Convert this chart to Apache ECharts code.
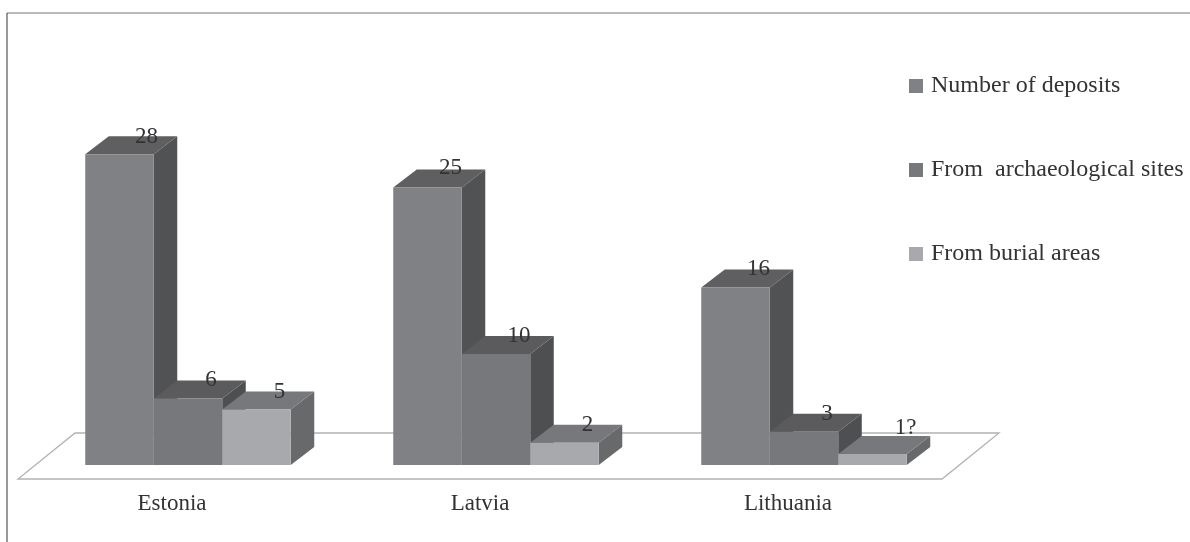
<!DOCTYPE html>
<html>
<head>
<meta charset="utf-8">
<style>html,body{margin:0;padding:0;background:#fff}#chart{width:1190px;height:542px}</style>
<script src="https://cdn.jsdelivr.net/npm/echarts@6/dist/echarts.min.js"></script>
</head>
<body>
<div id="chart"></div>
<script>
// Deposits per Baltic country
const countries = ['Estonia', 'Latvia', 'Lithuania'];
const seriesNames = ['Number of deposits', 'From  archaeological sites', 'From burial areas'];
const numberOfDeposits = [28, 25, 16];
const fromArchaeologicalSites = [6, 10, 3];
const fromBurialAreas = [5, 2, 1];
const depositLabels = ['28', '25', '16'];
const siteLabels = ['6', '10', '3'];
const burialLabels = ['5', '2', '1?'];

// Block shading: front, top and side face per series
const faces = [
  { front: '#808184', top: '#5f5f61', side: '#515254' },
  { front: '#77787b', top: '#5b5b5d', side: '#4e4f51' },
  { front: '#a7a9ac', top: '#77787b', side: '#68696b' }
];
const allLabels = [depositLabels, siteLabels, burialLabels];
const FONT = '"Liberation Serif", serif';
const TEXT = '#333335';

// Pseudo-3D geometry, in pixels
const FLOOR_DX = 57, FLOOR_DY = 46;   // floor depth
const BASE_DX = 16, BASE_DY = 14;     // bars stand in the middle of the floor
const DEPTH_DX = 23.5, DEPTH_DY = 18; // depth of each block
const BAR_SHARE = 0.2224;             // bar width as a share of the category band
const labelShift = { '28': [4, 1], '25': [0, -2], '1?': [10, -8] };

function renderFloor(params) {
  const g = params.coordSys;
  const bottom = g.y + g.height, right = g.x + g.width;
  return {
    type: 'polygon',
    shape: { points: [
      [g.x, bottom], [right, bottom],
      [right + FLOOR_DX, bottom - FLOOR_DY], [g.x + FLOOR_DX, bottom - FLOOR_DY]
    ] },
    style: { fill: '#fff', stroke: '#b2b2b2', lineWidth: 1.3 }
  };
}

function blockRenderer(seriesIndex) {
  return function (params, api) {
    const base = api.coord([api.value(0), 0]);
    const head = api.coord([api.value(0), api.value(1)]);
    const band = api.size([1, 0])[0];
    const w = band * BAR_SHARE;
    const x0 = base[0] + BASE_DX + (seriesIndex - 1.5) * w;
    const x1 = x0 + w;
    const yb = base[1] - BASE_DY;
    const yt = head[1] - BASE_DY;
    const c = faces[seriesIndex];
    const text = allLabels[seriesIndex][params.dataIndex];
    const shift = labelShift[text] || [0, 0];
    return {
      type: 'group',
      children: [
        { type: 'polygon', shape: { points: [[x1, yb], [x1 + DEPTH_DX, yb - DEPTH_DY], [x1 + DEPTH_DX, yt - DEPTH_DY], [x1, yt]] },
          style: { fill: c.side } },
        { type: 'polygon', shape: { points: [[x0, yt], [x1, yt], [x1 + DEPTH_DX, yt - DEPTH_DY], [x0 + DEPTH_DX, yt - DEPTH_DY]] },
          style: { fill: c.top } },
        { type: 'rect', shape: { x: x0, y: yt, width: w, height: yb - yt },
          style: { fill: c.front } },
        { type: 'text', z2: 100,
          style: {
            x: (x0 + x1) / 2 + 23 + shift[0],
            y: yt - 18 + shift[1],
            text: text,
            align: 'center', verticalAlign: 'middle',
            font: '23px ' + FONT, fill: TEXT
          } }
      ]
    };
  };
}

function blockSeries(index, values) {
  return {
    type: 'custom',
    name: seriesNames[index],
    renderItem: blockRenderer(index),
    itemStyle: { color: faces[index].front },
    encode: { x: 0, y: 1 },
    clip: false,
    data: values.map((v, i) => [i, v])
  };
}

const chart = echarts.init(document.getElementById('chart'), null, { renderer: 'canvas' });
chart.setOption({
  animation: false,
  backgroundColor: '#fff',
  grid: { left: 18, width: 924, top: 35, height: 444 },
  xAxis: {
    type: 'category',
    data: countries,
    axisLine: { show: false },
    axisTick: { show: false },
    axisLabel: { fontFamily: FONT, fontSize: 23, color: TEXT, margin: 13 }
  },
  yAxis: { type: 'value', min: 0, max: 40, show: false },
  legend: {
    orient: 'vertical',
    left: 904,
    top: 69,
    icon: 'rect',
    itemWidth: 14,
    itemHeight: 14,
    itemGap: 60,
    data: seriesNames,
    textStyle: { fontFamily: FONT, fontSize: 24, color: TEXT, padding: [0, 0, 0, 3] }
  },
  graphic: [
    { type: 'line', silent: true, shape: { x1: 7, y1: 13, x2: 1190, y2: 13 },
      style: { stroke: '#777', lineWidth: 1.2 } },
    { type: 'line', silent: true, shape: { x1: 7, y1: 13, x2: 7, y2: 542 },
      style: { stroke: '#555', lineWidth: 1.2 } }
  ],
  series: [
    { type: 'custom', name: 'floor', renderItem: renderFloor, silent: true, data: [[0, 0]], encode: { x: 0, y: 1 }, clip: false },
    blockSeries(0, numberOfDeposits),
    blockSeries(1, fromArchaeologicalSites),
    blockSeries(2, fromBurialAreas)
  ]
});
</script>
</body>
</html>
